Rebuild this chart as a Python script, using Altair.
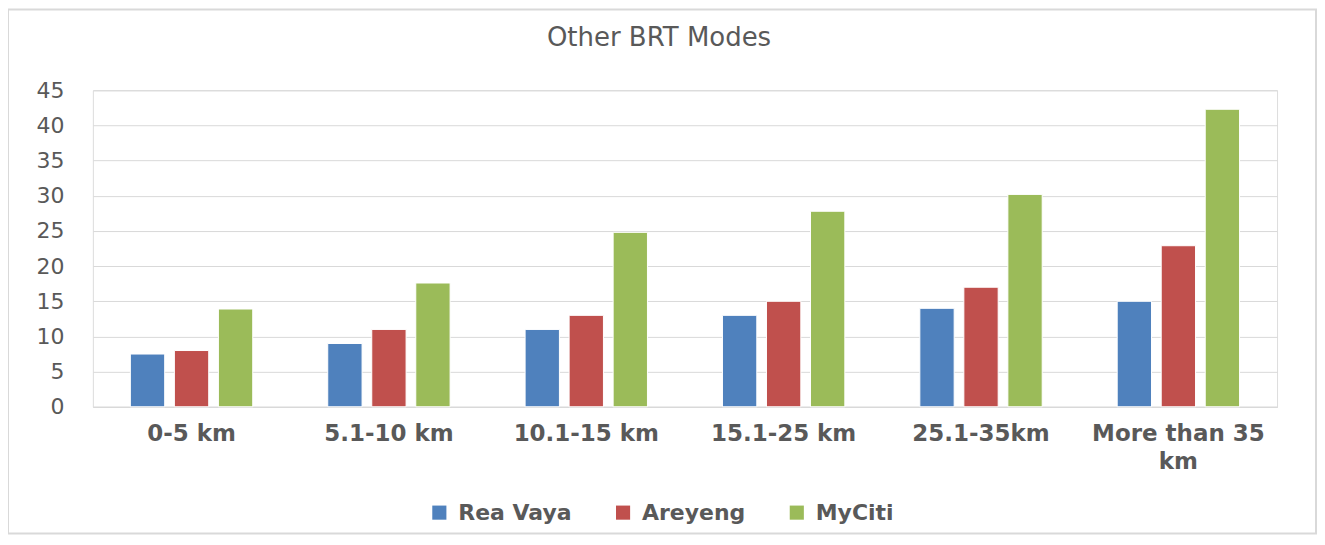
import altair as alt
import pandas as pd

categories = ["0-5 km", "5.1-10 km", "10.1-15 km", "15.1-25 km", "25.1-35km", "More than 35 km"]
series = ["Rea Vaya", "Areyeng", "MyCiti"]
rea_vaya = [7.5, 9, 11, 13, 14, 15]
areyeng = [8, 11, 13, 15, 17, 22.9]
myciti = [13.9, 17.6, 24.8, 27.8, 30.2, 42.3]
colors = ["#4F81BD", "#C0504D", "#9BBB59"]
title_text = "Other BRT Modes"

rows = []
for name, vals in zip(series, [rea_vaya, areyeng, myciti]):
    for c, v in zip(categories, vals):
        rows.append({"Distance": c, "Mode": name, "Value": v})
df = pd.DataFrame(rows)

FONT = "DejaVu Sans"
GRAY = "#595959"

bars = alt.Chart(df).mark_bar(stroke="white", strokeWidth=1).encode(
    x=alt.X("Distance:N", sort=categories,
            scale=alt.Scale(paddingInner=0.38, paddingOuter=0.19),
            axis=alt.Axis(title=None, labelAngle=0, ticks=False, domain=True,
                          domainColor="#d9d9d9", labelFont=FONT, labelFontSize=23,
                          labelFontWeight="bold", labelColor=GRAY, labelPadding=16,
                          labelLineHeight=28, labelBaseline="top", labelLimit=400,
                          labelExpr="datum.label == 'More than 35 km' ? ['More than 35', 'km'] : datum.label")),
    xOffset=alt.XOffset("Mode:N", sort=series, scale=alt.Scale(paddingInner=0.22)),
    y=alt.Y("Value:Q", scale=alt.Scale(domain=[0, 45], nice=False),
            axis=alt.Axis(title=None, values=list(range(0, 50, 5)), ticks=False, domain=False,
                          gridColor="#d9d9d9", labelFont=FONT, labelFontSize=22,
                          labelColor=GRAY, labelPadding=29)),
    color=alt.Color("Mode:N", sort=series,
                    scale=alt.Scale(domain=series, range=colors),
                    legend=alt.Legend(title=None, orient="none", legendX=336, legendY=412,
                                      direction="horizontal", symbolType="square",
                                      symbolSize=200, symbolStrokeWidth=0,
                                      labelFont=FONT, labelFontSize=22, labelFontWeight="bold",
                                      labelColor=GRAY, columnPadding=40, labelOffset=8,
                                      labelLimit=300)),
)

border = alt.Chart(pd.DataFrame({"a": [0]})).mark_rect(
    fill=None, stroke="#d9d9d9", strokeWidth=2
).encode(x=alt.value(-85), x2=alt.value(1225), y=alt.value(-81), y2=alt.value(444))

title = alt.Chart(pd.DataFrame({"t": [title_text]})).mark_text(
    font=FONT, fontSize=26, color=GRAY, align="center", baseline="middle"
).encode(text="t:N", x=alt.value(567), y=alt.value(-52))

chart = alt.layer(border, title, bars).properties(
    width=1186, height=317,
    autosize=alt.AutoSizeParams(type="none"),
    padding={"left": 85, "top": 82, "right": 40, "bottom": 128},
).configure_view(stroke=None).configure(background="white")

chart.save("out.html", embed_options={"renderer": "svg", "actions": False})
